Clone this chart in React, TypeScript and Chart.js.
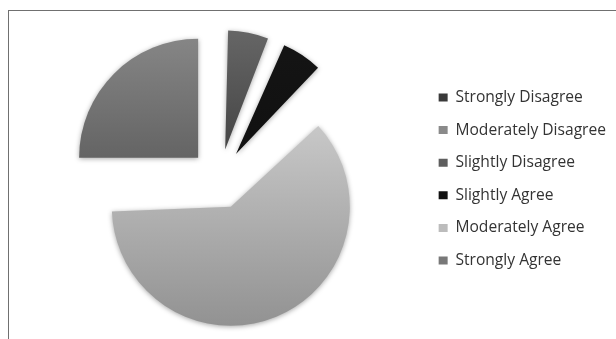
import React, { useEffect, useRef } from "react";
import { Chart, registerables } from "chart.js";

Chart.register(...registerables);

// ---- data ----
const categories = [
  "Strongly Disagree",
  "Moderately Disagree",
  "Slightly Disagree",
  "Slightly Agree",
  "Moderately Agree",
  "Strongly Agree",
];
const responses = [0, 0, 1, 1, 10, 4];

// ---- style ----
const legendColors = ["#3a3a3a", "#8a8a8a", "#5e5e5e", "#111111", "#bcbcbc", "#787878"];
const gradientTops = ["#4a4a4a", "#a0a0a0", "#6e6e6e", "#161616", "#dadada", "#8e8e8e"];
const gradientBottoms = ["#2a2a2a", "#707070", "#1c1c1c", "#0a0a0a", "#8a8a8a", "#3a3a3a"];
const RADIUS = 119;
const EXPLODE = 30;

const explodePlugin = {
  id: "explodeFix",
  beforeDatasetsDraw(chart: any) {
    const meta = chart.getDatasetMeta(0);
    const ctrl: any = meta.controller;
    meta.data.forEach((arc: any) => {
      const c = arc.circumference || 0;
      const off = ((arc.options && arc.options.offset) || 0) / 4;
      const fix = 1 - Math.sin(Math.min(Math.PI, c));
      arc.outerRadius = ctrl.outerRadius - off * fix;
    });
    const ctx = chart.ctx;
    ctx.save();
    ctx.shadowColor = "rgba(0,0,0,0.35)";
    ctx.shadowBlur = 5;
    ctx.shadowOffsetY = 1;
  },
  afterDatasetsDraw(chart: any) {
    chart.ctx.restore();
  },
};

export default function App() {
  const ref = useRef<HTMLCanvasElement | null>(null);

  useEffect(() => {
    if (!ref.current) return;
    const chart = new Chart(ref.current, {
      type: "pie",
      data: {
        labels: categories,
        datasets: [
          {
            data: responses,
            radius: RADIUS,
            offset: EXPLODE * 4,
            hoverOffset: 0,
            borderWidth: 0,
            backgroundColor: (ctx: any) => {
              const i = ctx.dataIndex;
              const area = ctx.chart.chartArea;
              if (!area) return legendColors[i];
              const cy = (area.top + area.bottom) / 2;
              const g = ctx.chart.ctx.createLinearGradient(0, cy - RADIUS - EXPLODE, 0, cy + RADIUS + EXPLODE);
              g.addColorStop(0, gradientTops[i]);
              g.addColorStop(1, gradientBottoms[i]);
              return g;
            },
          } as any,
        ],
      },
      options: {
        responsive: false,
        animation: false,
        events: [],
        layout: { padding: { left: 8, right: 0, top: 8, bottom: 0 } },
        plugins: {
          tooltip: { enabled: false },
          legend: {
            position: "right",
            labels: {
              boxWidth: 9,
              boxHeight: 8,
              padding: 17.0,
              color: "#333333",
              font: { family: "Open Sans", size: 15.6 },
              generateLabels: () =>
                categories.map((text, i) => ({
                  text,
                  fillStyle: legendColors[i],
                  strokeStyle: legendColors[i],
                  lineWidth: 0,
                  hidden: false,
                  index: i,
                  fontColor: "#333333",
                })),
            },
          },
        },
      },
      plugins: [explodePlugin],
    } as any);
    return () => chart.destroy();
  }, []);

  return (
    <div
      style={{
        position: "fixed",
        left: 8,
        top: 10,
        width: 608,
        height: 329,
        boxSizing: "border-box",
        borderLeft: "1px solid #707070",
        borderTop: "1px solid #707070",
        background: "#ffffff",
        overflow: "hidden",
      }}
    >
      <canvas ref={ref} width={607} height={328} style={{ display: "block" }} />
    </div>
  );
}
